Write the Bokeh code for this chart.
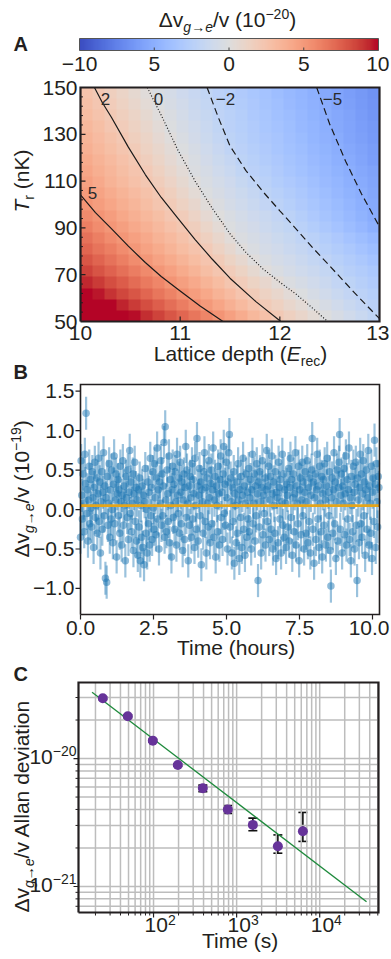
import numpy as np
from bokeh.plotting import figure
from bokeh.layouts import column
from bokeh.models import Range1d, ColumnDataSource, Whisker, TeeHead, LinearColorMapper
from bokeh.core.properties import value
from bokeh.embed import file_html
from bokeh.resources import INLINE

FONT = "Liberation Sans"
TXT = "#231f20"

# ================================================================== data
# Panel A: frequency shift (units 1e-20); rows = temperature (nK), cols = lattice depth (E_rec)
depth_grid = [10.0, 10.125, 10.25, 10.375, 10.5, 10.625, 10.75, 10.875, 11.0, 11.125, 11.25, 11.375, 11.5,
              11.625, 11.75, 11.875, 12.0, 12.125, 12.25, 12.375, 12.5, 12.625, 12.75, 12.875, 13.0]
temp_grid = [50, 55, 60, 65, 70, 75, 80, 85, 90, 95, 100, 105, 110, 115, 120, 125, 130, 135, 140, 145, 150]
shift_T50 = [12.44, 11.79, 11.14, 10.49, 9.84, 9.19, 8.54, 7.89, 7.24, 6.59, 5.94, 5.29, 4.64, 3.99, 3.34, 2.70, 2.05, 1.51, 0.98, 0.45, -0.07, -0.53, -0.98, -1.44, -1.89]
shift_T55 = [11.30, 10.68, 10.05, 9.43, 8.80, 8.18, 7.55, 6.93, 6.30, 5.68, 5.05, 4.43, 3.80, 3.18, 2.55, 1.94, 1.43, 0.92, 0.41, -0.09, -0.54, -0.98, -1.43, -1.87, -2.27]
shift_T60 = [10.23, 9.63, 9.03, 8.43, 7.83, 7.23, 6.63, 6.03, 5.43, 4.83, 4.24, 3.64, 3.05, 2.45, 1.88, 1.37, 0.86, 0.35, -0.14, -0.56, -0.98, -1.41, -1.83, -2.23, -2.60]
shift_T65 = [9.32, 8.75, 8.17, 7.60, 7.02, 6.45, 5.87, 5.30, 4.72, 4.15, 3.57, 2.99, 2.42, 1.85, 1.32, 0.79, 0.26, -0.21, -0.60, -1.00, -1.40, -1.80, -2.18, -2.56, -2.93]
shift_T70 = [8.52, 7.96, 7.40, 6.85, 6.29, 5.74, 5.18, 4.62, 4.07, 3.52, 2.96, 2.41, 1.86, 1.28, 0.70, 0.12, -0.29, -0.66, -1.03, -1.40, -1.76, -2.14, -2.51, -2.89, -3.26]
shift_T75 = [7.82, 7.28, 6.74, 6.20, 5.66, 5.12, 4.60, 4.07, 3.53, 3.00, 2.47, 1.93, 1.32, 0.71, 0.10, -0.30, -0.66, -1.01, -1.37, -1.73, -2.09, -2.48, -2.87, -3.26, -3.64]
shift_T80 = [7.23, 6.70, 6.18, 5.65, 5.13, 4.60, 4.08, 3.56, 3.04, 2.52, 2.00, 1.38, 0.75, 0.13, -0.28, -0.63, -0.99, -1.34, -1.69, -2.05, -2.45, -2.85, -3.25, -3.65, -4.05]
shift_T85 = [6.74, 6.22, 5.70, 5.18, 4.67, 4.16, 3.64, 3.13, 2.62, 2.10, 1.50, 0.88, 0.25, -0.21, -0.56, -0.92, -1.27, -1.62, -1.97, -2.38, -2.79, -3.20, -3.62, -4.03, -4.44]
shift_T90 = [6.19, 5.69, 5.20, 4.70, 4.21, 3.72, 3.22, 2.73, 2.24, 1.68, 1.05, 0.43, -0.12, -0.48, -0.84, -1.19, -1.57, -1.93, -2.35, -2.78, -3.22, -3.66, -4.10, -4.53, -4.97]
shift_T95 = [5.74, 5.25, 4.77, 4.28, 3.79, 3.31, 2.82, 2.34, 1.81, 1.21, 0.62, 0.02, -0.36, -0.73, -1.10, -1.48, -1.85, -2.25, -2.67, -3.09, -3.52, -3.94, -4.36, -4.78, -5.18]
shift_T100 = [5.31, 4.83, 4.35, 3.87, 3.38, 2.90, 2.42, 1.93, 1.36, 0.80, 0.23, -0.23, -0.63, -1.02, -1.41, -1.80, -2.19, -2.59, -2.99, -3.39, -3.79, -4.19, -4.59, -4.98, -5.34]
shift_T105 = [4.93, 4.46, 3.99, 3.52, 3.05, 2.58, 2.11, 1.57, 1.00, 0.43, -0.10, -0.49, -0.90, -1.30, -1.70, -2.11, -2.49, -2.87, -3.26, -3.64, -4.02, -4.40, -4.78, -5.15, -5.48]
shift_T110 = [4.62, 4.15, 3.67, 3.20, 2.72, 2.25, 1.74, 1.20, 0.65, 0.11, -0.33, -0.75, -1.17, -1.58, -2.00, -2.37, -2.74, -3.11, -3.49, -3.86, -4.23, -4.60, -4.98, -5.30, -5.62]
shift_T115 = [4.36, 3.88, 3.41, 2.93, 2.46, 1.98, 1.43, 0.89, 0.35, -0.16, -0.60, -1.04, -1.47, -1.91, -2.29, -2.64, -3.00, -3.36, -3.71, -4.07, -4.43, -4.79, -5.13, -5.46, -5.78]
shift_T120 = [4.09, 3.62, 3.14, 2.67, 2.19, 1.68, 1.15, 0.62, 0.09, -0.37, -0.82, -1.27, -1.71, -2.13, -2.48, -2.83, -3.19, -3.54, -3.90, -4.25, -4.60, -4.95, -5.29, -5.61, -5.94]
shift_T125 = [3.82, 3.35, 2.87, 2.40, 1.92, 1.40, 0.87, 0.35, -0.15, -0.61, -1.07, -1.54, -2.00, -2.34, -2.69, -3.03, -3.38, -3.72, -4.06, -4.41, -4.75, -5.09, -5.42, -5.74, -6.07]
shift_T130 = [3.56, 3.08, 2.61, 2.13, 1.63, 1.12, 0.61, 0.10, -0.36, -0.82, -1.27, -1.73, -2.14, -2.48, -2.82, -3.17, -3.51, -3.86, -4.20, -4.55, -4.89, -5.22, -5.55, -5.87, -6.20]
shift_T135 = [3.29, 2.82, 2.34, 1.86, 1.37, 0.88, 0.39, -0.09, -0.55, -1.00, -1.45, -1.91, -2.27, -2.61, -2.95, -3.30, -3.64, -3.98, -4.32, -4.66, -5.00, -5.33, -5.65, -5.98, -6.30]
shift_T140 = [3.03, 2.55, 2.08, 1.60, 1.12, 0.63, 0.15, -0.30, -0.74, -1.18, -1.63, -2.04, -2.39, -2.73, -3.08, -3.42, -3.76, -4.11, -4.45, -4.79, -5.13, -5.46, -5.78, -6.11, -6.43]
shift_T145 = [2.76, 2.29, 1.81, 1.34, 0.87, 0.40, -0.07, -0.50, -0.93, -1.36, -1.79, -2.18, -2.52, -2.86, -3.20, -3.54, -3.88, -4.22, -4.56, -4.90, -5.23, -5.56, -5.88, -6.21, -6.53]
shift_T150 = [2.53, 2.06, 1.58, 1.11, 0.64, 0.17, -0.27, -0.68, -1.10, -1.52, -1.93, -2.29, -2.63, -2.97, -3.31, -3.65, -3.99, -4.33, -4.67, -5.00, -5.34, -5.66, -5.99, -6.31, -6.64]

# contour lines (levels 5, 2, 0, -2, -5)
c5_depth = [10.0, 10.15, 10.31, 10.48, 10.65, 10.81, 10.98, 11.2, 11.43]
c5_temp = [104.1, 96.5, 89.7, 82.2, 75.2, 69.2, 63.7, 56.6, 50.0]
c2_depth = [10.14, 10.22, 10.31, 10.48, 10.65, 10.81, 10.98, 11.15, 11.32, 11.5, 11.76, 12.01]
c2_temp = [150.0, 143.5, 137.3, 124.5, 112.8, 103.0, 94.0, 85.0, 76.7, 68.5, 58.5, 50.0]
c0_depth = [10.67, 10.82, 10.98, 11.15, 11.32, 11.5, 11.66, 11.83, 12.0, 12.16, 12.32, 12.48]
c0_temp = [150.0, 137.3, 123.0, 110.0, 98.5, 87.5, 79.5, 72.5, 66.8, 61.8, 56.0, 50.0]
cm2_depth = [11.27, 11.38, 11.5, 11.66, 11.83, 12.0, 12.16, 12.33, 12.5, 12.75, 13.0]
cm2_temp = [150.0, 137.5, 125.0, 114.5, 105.5, 97.3, 89.7, 81.5, 73.8, 62.2, 51.2]
cm5_depth = [12.37, 12.5, 12.66, 12.82, 13.0]
cm5_temp = [150.0, 134.4, 118.5, 104.5, 90.5]
contour_texts = ["5", "2", "0", "\u22122", "\u22125"]

a_xticks = [10, 11, 12, 13]
a_yticks = [50, 70, 90, 110, 130, 150]
a_yminor = [54, 58, 62, 66, 74, 78, 82, 86, 94, 98, 102, 106, 114, 118, 122, 126, 134, 138, 142, 146]

cbar_ticks = [-10, -5, 0, 5, 10]
cbar_labels = ["\u221210", "5", "0", "5", "10"]

# Panel B: time series of the shift (units 1e-21 = hundredths of 1e-19)
time_b_start, time_b_end = 0.0, 10.24
dv_b_1e21 = [
    -35, 62, 18, -12, 45, 8, -28, 70, 33, 122, -5, 25, -40, 12, 55, -18, 38, 2, -22, 48, 15, -48, 28, 60, -10, 5, 40, -30, 20, 65,
    -15, 35, -55, 10, 48, -25, 22, 72, -8, 30, -87, 15, -92, 42, -20, 8, 58, -35, 25, -12, 50, 0, -42, 32, 68, -18, 12, 45, -60, 20,
    38, -8, 25, -30, 55, 10, -45, 18, 62, -20, 30, 5, -65, 42, 15, -10, 50, -38, 22, 75, -5, 35, -28, 8, 45, -52, 20, 60, -15, 28,
    -40, 12, -58, 25, -22, 40, -65, 5, -35, 30, -48, 18, -70, 10, 52, -30, 0, -55, 35, -18, 22, -45, 65, -8, 28, -38, 48, 2, -25, 58,
    15, -32, 40, 78, -12, 25, -50, 35, 8, 62, -20, 45, -8, 30, 85, -35, 105, 12, -28, 50, 20, -15, 68, -42, 38, 5, -60, 25, 55, -10,
    32, -25, 48, 10, -45, 70, 18, -5, 40, -30, 60, 22, -18, 35, -52, 12, 45, -38, 28, 80, -10, 50, 8, -65, 30, -20, 42, 15, -35, 58,
    -12, 38, 20, -48, 65, 5, -25, 90, 30, -40, 18, 52, -8, 35, -70, 25, 10, -30, 48, 72, -15, 28, -55, 40, 8, -22, 62, 15, -42, 33,
    50, -18, 25, 78, -35, 12, 42, -60, 30, 5, -28, 55, 20, -45, 38, 68, -10, 22, -38, 45, 80, -5, 32, -20, 60, 15, -50, 35, 72, 95,
    -22, 40, 10, -55, 28, -15, 48, -68, 20, 5, -42, 35, -30, 58, 12, -62, 25, -10, 42, -48, 18, 65, -25, 30, -58, 8, 45, -35, 22, -12,
    52, -28, 15, 38, -50, 25, 70, -18, 8, 45, -40, 30, -8, 58, 20, -90, 35, -22, 48, 10, -55, 28, 62, -32, 18, -5, 40, -45, 25, 75,
    -15, 30, 55, -38, 12, 42, -25, 68, 20, -50, 35, 5, -30, 48, -62, 22, 15, -42, 60, 28, -12, 38, -55, 10, 70, -20, 45, -35, 25, 8,
    -48, 32, 18, -22, 52, -40, 28, 65, -10, 38, -58, 15, 45, -28, 20, 72, -45, 30, 8, -18, 55, -65, 25, 40, -32, 12, 60, -8, 35, -50,
    22, 48, -30, 10, 62, -42, 28, -15, 40, -55, 18, 50, 90, -25, 35, -68, 15, 45, -38, 25, 70, -12, 30, -48, 55, 8, -28, 42, -60, 20,
    38, -20, 58, 12, -45, 30, 65, -35, 22, -8, 48, -52, -97, 15, 40, -30, 25, 72, -18, 35, -62, 10, 50, -40, 28, 60, 95, -25, 18, 45,
    -55, 30, 8, 52, -32, 20, 68, -45, 38, -12, 25, 78, -38, 15, -65, 42, 5, -28, 55, 22, -50, 32, 60, -20, -90, 40, 12, -42, 28, 70,
    -18, 45, -35, 20, 62, -8, 35, -58, 25, 50, -25, 15, 75, -45, 30, 8, -30, 55, -62, 22, 40, -15, 88, 32, -48, 58, 10, -22, 42, 28,
]
err_b = 0.21
mean_b = 0.05
b_xlim = [0.0, 10.24]
b_ylim = [-1.33, 1.585]
b_yticks = [-1.0, -0.5, 0.0, 0.5, 1.0, 1.5]
b_ylabels = ["\u22121.0", "\u22120.5", "0.0", "0.5", "1.0", "1.5"]
b_xticks = [0.0, 2.5, 5.0, 7.5, 10.0]
b_xlabels = ["0.0", "2.5", "5.0", "7.5", "10.0"]

# Panel C: Allan deviation
tau_c = [24.5, 49, 98, 196, 392, 784, 1568, 3136, 6272]
adev_c = [2.96e-20, 2.14e-20, 1.38e-20, 8.9e-21, 5.86e-21, 4.0e-21, 3.03e-21, 2.06e-21, 2.70e-21]
adev_lo = [2.90e-20, 2.09e-20, 1.35e-20, 8.7e-21, 5.5e-21, 3.72e-21, 2.73e-21, 1.82e-21, 2.25e-21]
adev_hi = [3.02e-20, 2.19e-20, 1.41e-20, 9.1e-21, 6.2e-21, 4.3e-21, 3.42e-21, 2.53e-21, 3.79e-21]
tau_fit = [18.2, 36600]
adev_fit = [3.30e-20, 7.6e-22]
c_xlim = [12.5, 51000]
c_ylim = [6.26e-22, 3.93e-20]
c_xticks = [1e2, 1e3, 1e4]
c_xexp = ["2", "3", "4"]
c_xminor = [20, 30, 40, 50, 60, 70, 80, 90, 200, 300, 400, 500, 600, 700, 800, 900,
            2000, 3000, 4000, 5000, 6000, 7000, 8000, 9000, 20000, 30000, 40000, 50000]
c_yticks = [1e-21, 1e-20]
c_yexp = ["\u221221", "\u221220"]
c_yminor = [7e-22, 8e-22, 9e-22, 2e-21, 3e-21, 4e-21, 5e-21, 6e-21, 7e-21, 8e-21, 9e-21, 2e-20, 3e-20]

# ================================================================== helpers
CW = [(59,76,192),(68,90,204),(77,104,215),(87,117,225),(98,130,234),(108,142,241),(119,154,247),
      (130,165,251),(141,176,254),(152,185,255),(163,194,255),(174,201,253),(184,208,249),(194,213,244),
      (204,217,238),(213,219,230),(221,221,221),(229,216,209),(236,211,197),(241,204,185),(245,196,173),
      (247,187,160),(247,177,148),(247,166,135),(244,154,123),(241,141,111),(236,127,99),(229,112,88),
      (222,96,77),(213,80,66),(203,62,56),(192,40,47),(180,4,38)]
_pos = np.linspace(0, 1, len(CW))
_q = np.linspace(0, 1, 256)
_ch = [np.interp(_q, _pos, [c[i] for c in CW]) for i in range(3)]
PAL = ["#%02x%02x%02x" % (int(round(r)), int(round(g)), int(round(b))) for r, g, b in zip(*_ch)]
mapper = LinearColorMapper(palette=PAL, low=cbar_ticks[0], high=cbar_ticks[-1])

WID = {"Δ": .668, "v": .5, "/": .278, " ": .278, "(": .333, ")": .333, "−": .584, ".": .278,
       "g": .556, "e": .556, "→": 1.0, "A": .667, "l": .222, "a": .556, "n": .556, "d": .556,
       "i": .222, "t": .278, "o": .556, "T": .611, "r": .333, "K": .667, "L": .556, "c": .5,
       "p": .556, "h": .556, "E": .667, "m": .833, "s": .5, "u": .556}


def tw(s, size):
    return sum(WID.get(ch, .556) for ch in s) * size


def X(info, px):
    f = (px - info["l"]) / (info["r"] - info["l"])
    if info.get("log"):
        a, b = np.log10(info["x0"]), np.log10(info["x1"])
        return float(10 ** (a + f * (b - a)))
    return float(info["x0"] + f * (info["x1"] - info["x0"]))


def Y(info, py):
    f = (info["b"] - py) / (info["b"] - info["t"])
    if info.get("log"):
        a, b = np.log10(info["y0"]), np.log10(info["y1"])
        return float(10 ** (a + f * (b - a)))
    return float(info["y0"] + f * (info["y1"] - info["y0"]))


def PX(info, x):
    if info.get("log"):
        f = (np.log10(x) - np.log10(info["x0"])) / (np.log10(info["x1"]) - np.log10(info["x0"]))
    else:
        f = (x - info["x0"]) / (info["x1"] - info["x0"])
    return info["l"] + f * (info["r"] - info["l"])


def PY(info, y):
    if info.get("log"):
        f = (np.log10(y) - np.log10(info["y0"])) / (np.log10(info["y1"]) - np.log10(info["y0"]))
    else:
        f = (y - info["y0"]) / (info["y1"] - info["y0"])
    return info["b"] - f * (info["b"] - info["t"])


W = 390
MID = 0.35  # baseline -> text middle, in em
SUB = 14
MAIN = 21


def make_canvas(top, bottom, info=None):
    log = bool(info and info.get("log"))
    if info is None:
        xr, yr = Range1d(0, W), Range1d(bottom, top)
    else:
        xr = Range1d(X(info, 0), X(info, W))
        yr = Range1d(Y(info, bottom), Y(info, top))
    p = figure(width=W, height=bottom - top, x_range=xr, y_range=yr,
               x_axis_type="log" if log else "linear", y_axis_type="log" if log else "linear",
               x_axis_location=None, y_axis_location=None, toolbar_location=None, tools="",
               output_backend="svg", min_border=0, min_border_left=0, min_border_right=0,
               min_border_top=0, min_border_bottom=0)
    p.outline_line_color = None
    p.background_fill_color = "white"
    p.border_fill_color = "white"
    p.xgrid.visible = False
    p.ygrid.visible = False
    return p


class Panel:
    """one panel drawn on a canvas through its own data ranges"""
    def __init__(self, p, info, name=None, top=0, bottom=0):
        self.p, self.info = p, info
        self.kw = {}
        if name:
            p.extra_x_ranges[name + "_x"] = Range1d(X(info, 0), X(info, W))
            p.extra_y_ranges[name + "_y"] = Range1d(Y(info, bottom), Y(info, top))
            self.kw = dict(x_range_name=name + "_x", y_range_name=name + "_y")

    def X(self, px): return X(self.info, px)
    def Y(self, py): return Y(self.info, py)
    def PX(self, x): return PX(self.info, x)
    def PY(self, y): return PY(self.info, y)

    def txt(self, x, y, text, size, style="normal", align="left", angle=0.0, color=TXT):
        self.p.text(x=[x], y=[y], text=[text], text_font=value(FONT), text_font_size=value(f"{size}px"),
                    text_font_style=value(style), text_align=value(align), text_baseline=value("middle"),
                    angle=angle, text_color=color, **self.kw)

    def label(self, px, py_base, text, size, style="normal", align="left", color=TXT):
        self.txt(self.X(px), self.Y(py_base - MID * size), text, size, style=style, align=align, color=color)

    def runs(self, px, py, parts, align="left", rotated=False):
        total = sum(tw(t, s) for t, s, _, _ in parts)
        pos = {"left": 0, "center": -total / 2, "right": -total}[align]
        for t, s, shift, style in parts:
            lead = len(t) - len(t.lstrip(" "))
            at = pos + tw(" " * lead, s)
            body = t.strip(" ")
            if rotated:
                self.txt(self.X(px - shift - MID * s), self.Y(py - at), body, s, style=style, angle=np.pi / 2)
            else:
                self.txt(self.X(px + at), self.Y(py - shift - MID * s), body, s, style=style)
            pos += tw(t, s)

    def xticks(self, vals, py0, py1, color=TXT, width=1.2):
        n = len(vals)
        self.p.segment(x0=vals, x1=vals, y0=[self.Y(py0)] * n, y1=[self.Y(py1)] * n,
                       line_color=color, line_width=width, **self.kw)

    def yticks(self, vals, px0, px1, color=TXT, width=1.2):
        n = len(vals)
        self.p.segment(x0=[self.X(px0)] * n, x1=[self.X(px1)] * n, y0=vals, y1=vals,
                       line_color=color, line_width=width, **self.kw)

    def box(self, xlim, ylim, color=TXT, width=2.0):
        self.p.line(x=[xlim[0], xlim[1], xlim[1], xlim[0], xlim[0]],
                    y=[ylim[0], ylim[0], ylim[1], ylim[1], ylim[0]],
                    line_color=color, line_width=width, line_join="miter", **self.kw)

    def xtick_labels(self, vals, labels, py_base, size, right_limit=W - 1):
        for t, s in zip(vals, labels):
            half = tw(s, size) / 2
            cx = min(self.PX(t), right_limit - half)
            self.label(cx, py_base, s, size, align="center")


# ================================================================== canvas 1: colour bar, A, B
TOP_H = 661
p1 = make_canvas(0, TOP_H)

# ---- colour bar + title
cbp = Panel(p1, dict(l=79, r=378, t=38, b=50, x0=cbar_ticks[0], x1=cbar_ticks[-1], y0=0, y1=1), "cb", 0, TOP_H)
p1.image(image=[np.linspace(cbar_ticks[0], cbar_ticks[-1], 256)[None, :]], x=cbar_ticks[0], y=0,
         dw=cbar_ticks[-1] - cbar_ticks[0], dh=1, color_mapper=mapper, **cbp.kw)
cbp.box([cbar_ticks[0], cbar_ticks[-1]], [0, 1], color="#555555", width=1)
cbp.xticks(cbar_ticks[1:-1], 50, 47, color="#444444", width=1)
cbp.xtick_labels(cbar_ticks, cbar_labels, 71, MAIN)
cbp.label(13, 50, "A", 20, style="bold")
cbp.runs(227, 26, [("Δv", MAIN, 0, "normal"), ("g→e", SUB, -5, "italic"),
                   ("/v (10", MAIN, 0, "normal"), ("−20", SUB, 8, "normal"),
                   (")", MAIN, 0, "normal")], align="center")

# ---- panel A
pa = Panel(p1, dict(l=80, r=379, t=87, b=321, x0=depth_grid[0], x1=depth_grid[-1],
                    y0=temp_grid[0], y1=temp_grid[-1]), "a", 0, TOP_H)
grid_rows = [shift_T50, shift_T55, shift_T60, shift_T65, shift_T70, shift_T75, shift_T80, shift_T85,
             shift_T90, shift_T95, shift_T100, shift_T105, shift_T110, shift_T115, shift_T120, shift_T125,
             shift_T130, shift_T135, shift_T140, shift_T145, shift_T150]
p1.image(image=[np.array(grid_rows, dtype=float)], x=depth_grid[0], y=temp_grid[0],
         dw=depth_grid[-1] - depth_grid[0], dh=temp_grid[-1] - temp_grid[0], color_mapper=mapper, **pa.kw)
for xs, ys, dash in [(c5_depth, c5_temp, "solid"), (c2_depth, c2_temp, "solid"),
                     (c0_depth, c0_temp, "1 2"), (cm2_depth, cm2_temp, "7 4"),
                     (cm5_depth, cm5_temp, "7 4")]:
    p1.line(xs, ys, line_color="#1a1a1a", line_width=1.2, line_dash=dash, **pa.kw)
for t, (px, py) in zip(contour_texts, [(92, 192), (105, 98), (158, 98), (225, 98), (332, 98)]):
    pa.txt(pa.X(px), pa.Y(py), t, 17, align="center", color="#2b2b2b")
pa.xticks(a_xticks[1:-1], 321, 316)
pa.yticks(a_yticks[1:-1], 80, 85)
pa.yticks(a_yminor, 80, 82.5, width=1)
pa.box([depth_grid[0], depth_grid[-1]], [temp_grid[0], temp_grid[-1]], width=2.2)
pa.xtick_labels(a_xticks, [str(t) for t in a_xticks], 340, MAIN)
for t in a_yticks:
    pa.txt(pa.X(77), t, str(t), MAIN, align="right")
pa.runs(28, 212, [("T", MAIN, 0, "italic"), ("r", SUB, -5, "normal"),
                  (" (nK)", MAIN, 0, "normal")], rotated=True)
pa.runs(240, 360, [("Lattice depth (", MAIN, 0, "normal"), ("E", MAIN, 0, "italic"),
                   ("rec", SUB, -5, "normal"), (")", MAIN, 0, "normal")], align="center")

# ---- panel B
pb = Panel(p1, dict(l=80, r=379, t=384, b=614, x0=b_xlim[0], x1=b_xlim[1],
                    y0=b_ylim[0], y1=b_ylim[1]), "b", 0, TOP_H)
yb = np.array(dv_b_1e21, dtype=float) / 100.0
tb = np.linspace(time_b_start, time_b_end, len(yb) + 1)[:-1]
srcb = ColumnDataSource(dict(t=tb, y=yb, lo=yb - err_b, hi=yb + err_b))
p1.segment(x0="t", y0="lo", x1="t", y1="hi", source=srcb, line_color="#1f77b4",
           line_alpha=0.45, line_width=2.2, **pb.kw)
p1.scatter("t", "y", source=srcb, size=7.5, fill_color="#1f77b4", fill_alpha=0.5, line_color=None, **pb.kw)
p1.line(x=b_xlim, y=[mean_b, mean_b], line_color="#e3a51c", line_width=2.6, **pb.kw)
pb.box(b_xlim, b_ylim, width=1.6)
pb.xticks(b_xticks, 614, 619)
pb.yticks(b_yticks, 80, 75)
pb.xtick_labels(b_xticks, b_xlabels, 635, MAIN)
for t, s in zip(b_yticks, b_ylabels):
    pb.txt(pb.X(74), t, s, MAIN, align="right")
pb.label(13, 378, "B", 20, style="bold")
pb.runs(28, 557, [("Δv", MAIN, 0, "normal"), ("g→e", SUB, -5, "italic"),
                  ("/v (10", MAIN, 0, "normal"), ("−19", SUB, 8, "normal"),
                  (")", MAIN, 0, "normal")], rotated=True)
pb.runs(236, 654, [("Time (hours)", MAIN, 0, "normal")], align="center")

# ================================================================== canvas 2: panel C (log-log)
INFO_C = dict(l=78, r=378, t=682, b=912, x0=c_xlim[0], x1=c_xlim[1], y0=c_ylim[0], y1=c_ylim[1], log=True)
p2 = make_canvas(TOP_H, 958, INFO_C)
pc = Panel(p2, INFO_C)
gx = c_xminor + c_xticks
gy = c_yminor + c_yticks
p2.segment(x0=gx, x1=gx, y0=[c_ylim[0]] * len(gx), y1=[c_ylim[1]] * len(gx), line_color="#bdbdbd", line_width=1.5)
p2.segment(x0=[c_xlim[0]] * len(gy), x1=[c_xlim[1]] * len(gy), y0=gy, y1=gy, line_color="#bdbdbd", line_width=1.5)
p2.line(tau_fit, adev_fit, line_color="#1e8a3c", line_width=1.3)
srcc = ColumnDataSource(dict(tau=tau_c, adev=adev_c, lo=adev_lo, hi=adev_hi))
p2.add_layout(Whisker(source=srcc, base="tau", lower="lo", upper="hi", line_color="#111111",
                      line_width=1.6, level="underlay",
                      upper_head=TeeHead(size=9, line_color="#111111", line_width=1.6),
                      lower_head=TeeHead(size=9, line_color="#111111", line_width=1.6)))
p2.scatter("tau", "adev", source=srcc, size=10, fill_color="#663399", line_color=None)
pc.box(c_xlim, c_ylim, width=2.2)
pc.xticks(c_xticks, 912, 917)
pc.xticks(c_xminor, 912, 915, width=1)
pc.yticks(c_yticks, 78, 73)
pc.yticks(c_yminor, 78, 75, width=1)
for tk, ex in zip(c_yticks, c_yexp):
    pc.runs(76, pc.PY(tk) + 6, [("10", MAIN, 0, "normal"), (ex, SUB, 9, "normal")], align="right")
for tk, ex in zip(c_xticks, c_xexp):
    pc.runs(pc.PX(tk) - 9, 932, [("10", MAIN, 0, "normal"), (ex, SUB, 8, "normal")])
pc.label(13, 680, "C", 20, style="bold")
pc.runs(28, 912, [("Δv", MAIN, 0, "normal"), ("g→e", SUB, -5, "italic"),
                  ("/v Allan deviation", MAIN, 0, "normal")], rotated=True)
pc.runs(240, 947, [("Time (s)", MAIN, 0, "normal")], align="center")

layout = column(p1, p2, spacing=0)
open("out.html", "w").write(file_html(layout, INLINE))
